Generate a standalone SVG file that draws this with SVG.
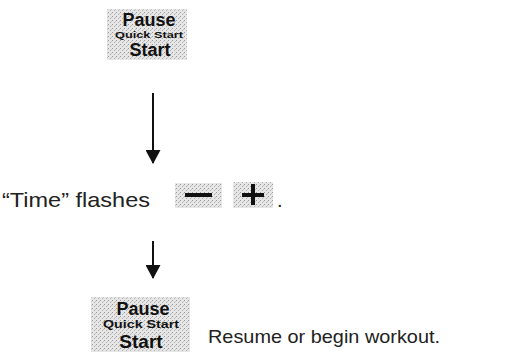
<svg xmlns="http://www.w3.org/2000/svg" width="508" height="359" viewBox="0 0 508 359">
<defs>
<pattern id="stip" width="4" height="4" patternUnits="userSpaceOnUse">
<rect width="4" height="4" fill="#e6e6e6"/>
<rect x="0" y="0" width="1" height="1" fill="#9a9a9a"/>
<rect x="2" y="2" width="1" height="1" fill="#b0b0b0"/>
<rect x="3" y="1" width="1" height="1" fill="#c4c4c4"/>
</pattern>
<marker id="arr" markerWidth="14" markerHeight="15" refX="13" refY="7.5" orient="auto" markerUnits="userSpaceOnUse" viewBox="0 0 14 15">
<path d="M0,0 L14,7.5 L0,15 Z" fill="#111"/>
</marker>
</defs>
<style>
.key{fill:url(#stip);}
.kb{font-family:"Liberation Sans",Arial,sans-serif;font-weight:bold;fill:#111;text-anchor:middle;}
.t{font-family:"Liberation Sans",Arial,sans-serif;fill:#222;}
.conn line{stroke:#111;stroke-width:2;}
</style>
<g id="key-start-top">
<rect class="key" x="107" y="9" width="80" height="51"/>
<text class="kb" x="149" y="26" font-size="18">Pause</text>
<text class="kb" x="149" y="38" font-size="9" textLength="68" lengthAdjust="spacingAndGlyphs">Quick Start</text>
<text class="kb" x="150" y="56" font-size="18">Start</text>
</g>
<g id="connectors" class="conn">
<line x1="153" y1="93" x2="153" y2="163" marker-end="url(#arr)"/>
<line x1="153" y1="241" x2="153" y2="278" marker-end="url(#arr)"/>
</g>
<g id="time-flashes">
<text class="t" x="2" y="207" font-size="21" textLength="148" lengthAdjust="spacingAndGlyphs">“Time” flashes</text>
<rect class="key" x="175" y="183" width="47" height="25"/>
<rect x="185" y="193" width="27" height="4" fill="#111"/>
<rect class="key" x="233" y="182" width="40" height="26"/>
<rect x="242" y="193" width="22" height="4" fill="#111"/>
<rect x="251" y="184" width="4" height="21" fill="#111"/>
<text class="t" x="277" y="207" font-size="20">.</text>
</g>
<g id="key-start-bottom">
<rect class="key" x="91" y="297" width="99" height="55"/>
<text class="kb" x="143" y="315" font-size="18">Pause</text>
<text class="kb" x="141" y="328" font-size="10" textLength="76" lengthAdjust="spacingAndGlyphs">Quick Start</text>
<text class="kb" x="141" y="348" font-size="19">Start</text>
</g>
<g id="resume">
<text class="t" x="208" y="343" font-size="19" textLength="232" lengthAdjust="spacingAndGlyphs">Resume or begin workout.</text>
</g>
</svg>
